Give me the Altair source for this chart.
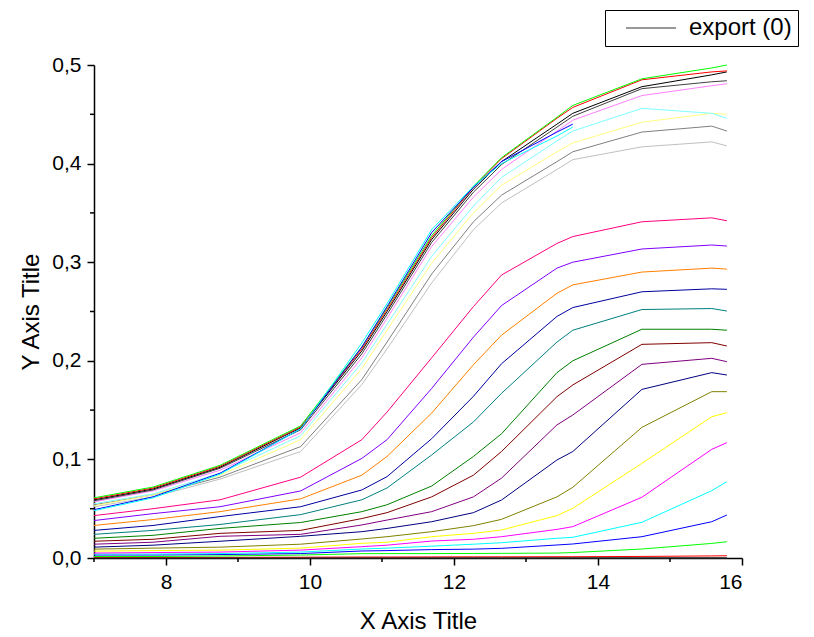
import altair as alt
import pandas as pd

x_vals = [7.0, 7.82, 8.75, 9.87, 10.72, 11.07, 11.69, 12.27, 12.66, 13.43, 13.65, 14.61, 15.58, 15.79]

s01_black = [0.0] * 14
s02_red = [0.0005, 0.0005, 0.0006, 0.0008, 0.001, 0.001, 0.0011, 0.0012, 0.0012, 0.0013, 0.0013, 0.0016, 0.0021, 0.0023]
s03_green = [0.0015, 0.0015, 0.002, 0.003, 0.0044, 0.0045, 0.0045, 0.0046, 0.0047, 0.005, 0.0055, 0.0091, 0.0148, 0.0165]
s04_blue = [0.003, 0.003, 0.0035, 0.0045, 0.0071, 0.0075, 0.0085, 0.009, 0.0098, 0.0132, 0.0142, 0.0216, 0.0368, 0.0436]
s05_cyan = [0.004, 0.004, 0.0045, 0.006, 0.0091, 0.010, 0.012, 0.014, 0.0155, 0.020, 0.021, 0.0362, 0.0683, 0.0774]
s06_magenta = [0.005, 0.0055, 0.006, 0.008, 0.0115, 0.013, 0.0172, 0.019, 0.0216, 0.029, 0.0318, 0.0616, 0.1102, 0.117]
s07_yellow = [0.007, 0.0075, 0.008, 0.010, 0.0149, 0.016, 0.0216, 0.025, 0.0284, 0.043, 0.0504, 0.096, 0.1433, 0.1474]
s08_darkyellow = [0.009, 0.010, 0.011, 0.014, 0.0193, 0.0216, 0.0267, 0.0328, 0.0392, 0.062, 0.0717, 0.1325, 0.1687, 0.1687]
s09_navy = [0.011, 0.013, 0.017, 0.022, 0.0267, 0.030, 0.0368, 0.046, 0.0588, 0.0994, 0.108, 0.171, 0.188, 0.1856]
s10_purple = [0.014, 0.016, 0.022, 0.024, 0.0335, 0.0385, 0.047, 0.062, 0.081, 0.135, 0.145, 0.1964, 0.2025, 0.1991]
s11_wine = [0.017, 0.019, 0.025, 0.028, 0.040, 0.046, 0.062, 0.084, 0.108, 0.1636, 0.1755, 0.2167, 0.2184, 0.215]
s12_olive = [0.020, 0.023, 0.030, 0.036, 0.047, 0.054, 0.073, 0.103, 0.126, 0.188, 0.200, 0.232, 0.232, 0.231]
s13_darkcyan = [0.024, 0.028, 0.034, 0.044, 0.059, 0.071, 0.1045, 0.138, 0.167, 0.219, 0.231, 0.252, 0.253, 0.2505]
s14_royal = [0.028, 0.033, 0.042, 0.052, 0.069, 0.0825, 0.121, 0.164, 0.197, 0.245, 0.254, 0.270, 0.273, 0.2725]
s15_orange = [0.033, 0.039, 0.047, 0.060, 0.084, 0.103, 0.147, 0.196, 0.226, 0.2685, 0.277, 0.290, 0.294, 0.293]
s16_violet = [0.038, 0.045, 0.052, 0.068, 0.101, 0.120, 0.172, 0.224, 0.256, 0.294, 0.300, 0.3134, 0.3174, 0.3164]
s17_pink = [0.043, 0.050, 0.059, 0.082, 0.120, 0.148, 0.203, 0.255, 0.287, 0.319, 0.326, 0.341, 0.345, 0.342]
s19_ltgray = [0.052, 0.062, 0.080, 0.108, 0.176, 0.212, 0.279, 0.333, 0.360, 0.394, 0.404, 0.417, 0.422, 0.418]
s20_gray = [0.054, 0.064, 0.082, 0.113, 0.181, 0.219, 0.288, 0.341, 0.368, 0.402, 0.412, 0.432, 0.438, 0.433]
s21_ltyellow = [0.053, 0.064, 0.084, 0.120, 0.192, 0.231, 0.299, 0.350, 0.378, 0.412, 0.421, 0.442, 0.451, 0.450]
s22_ltcyan = [0.055, 0.065, 0.086, 0.124, 0.198, 0.237, 0.306, 0.357, 0.386, 0.423, 0.433, 0.456, 0.451, 0.446]
s23_ltmagenta = [0.057, 0.068, 0.089, 0.127, 0.203, 0.243, 0.316, 0.366, 0.394, 0.433, 0.444, 0.469, 0.479, 0.481]
s24_darkgray = [0.058, 0.069, 0.091, 0.130, 0.207, 0.247, 0.320, 0.371, 0.399, 0.437, 0.448, 0.476, 0.483, 0.484]
s25_black = [0.059, 0.070, 0.092, 0.132, 0.210, 0.250, 0.323, 0.374, 0.402, 0.440, 0.451, 0.478, 0.490, 0.493]
s26_red = [0.060, 0.071, 0.093, 0.133, 0.212, 0.252, 0.325, 0.376, 0.405, 0.446, 0.457, 0.485, 0.493, 0.494]
s27_green = [0.061, 0.072, 0.094, 0.134, 0.214, 0.254, 0.327, 0.377, 0.406, 0.447, 0.459, 0.486, 0.497, 0.500]
s28_blue = [0.049, 0.062, 0.086, 0.131, 0.214, 0.255, 0.330, 0.376, 0.402, 0.432, 0.440, None, None, None]
s29_cyan = [0.048, 0.061, 0.085, 0.131, 0.218, 0.258, 0.333, 0.377, 0.400, 0.428, 0.437, None, None, None]

series = [
    (s01_black, "#000000"), (s02_red, "#FF0000"), (s03_green, "#00FF00"), (s04_blue, "#0000FF"),
    (s05_cyan, "#00FFFF"), (s06_magenta, "#FF00FF"), (s07_yellow, "#FFFF00"), (s08_darkyellow, "#808000"),
    (s09_navy, "#000080"), (s10_purple, "#800080"), (s11_wine, "#800000"), (s12_olive, "#008000"),
    (s13_darkcyan, "#008080"), (s14_royal, "#0000A0"), (s15_orange, "#FF8000"), (s16_violet, "#8000FF"),
    (s17_pink, "#FF0080"), (s19_ltgray, "#C0C0C0"), (s20_gray, "#808080"), (s21_ltyellow, "#FFFF80"),
    (s22_ltcyan, "#80FFFF"), (s23_ltmagenta, "#FF80FF"), (s24_darkgray, "#404040"), (s25_black, "#000000"),
    (s26_red, "#FF0000"), (s27_green, "#00FF00"), (s28_blue, "#0000FF"), (s29_cyan, "#00FFFF"),
]

rows = []
for i, (vals, col) in enumerate(series):
    for xv, yv in zip(x_vals, vals):
        if yv is not None:
            rows.append({"x": xv, "y": yv, "series": i, "color": col})
df = pd.DataFrame(rows)

legend_df = pd.DataFrame({"x": x_vals, "y": s01_black, "name": ["export (0)"] * len(x_vals)})

minor_x = [7, 9, 11, 13, 15]
minor_y = [0.05, 0.15, 0.25, 0.35, 0.45]

W, H = 648, 493
FONT = "Liberation Sans"

xscale = alt.Scale(domain=[7, 16], nice=False, zero=False)
yscale = alt.Scale(domain=[0, 0.5], nice=False)

xaxis = alt.Axis(values=[8, 10, 12, 14, 16], title="X Axis Title", grid=False,
                 labelExpr="replace(format(datum.value, 'd'), '.', ',')")
yaxis = alt.Axis(values=[0, 0.1, 0.2, 0.3, 0.4, 0.5], title="Y Axis Title", grid=False,
                 labelExpr="replace(format(datum.value, '.1f'), '.', ',')")

lines = alt.Chart(df).mark_line(strokeWidth=1, interpolate="linear").encode(
    x=alt.X("x:Q", scale=xscale, axis=xaxis),
    y=alt.Y("y:Q", scale=yscale, axis=yaxis),
    color=alt.Color("color:N", scale=None),
    detail="series:N",
    order="x:Q",
)

legend_layer = alt.Chart(legend_df).mark_line(strokeWidth=1).encode(
    x=alt.X("x:Q", scale=xscale),
    y=alt.Y("y:Q", scale=yscale),
    stroke=alt.Stroke("name:N", scale=alt.Scale(domain=["export (0)"], range=["#333333"]),
                      legend=alt.Legend(title=None, orient="none", legendX=511, legendY=-55,
                                        strokeColor="black", fillColor="white", padding=6,
                                        symbolType="M-2.5,0H2.5", symbolSize=400, symbolStrokeWidth=1,
                                        symbolFillColor="transparent",
                                        labelFontSize=24, labelFont=FONT, labelColor="black",
                                        labelExpr="datum.label + '\u00a0\u00a0\u00a0'",
                                        symbolOffset=28, labelOffset=26, cornerRadius=0)),
)

minor_x_ticks = alt.Chart(pd.DataFrame({"x": minor_x})).mark_rule(color="black", strokeWidth=1.5).encode(
    x=alt.X("x:Q", scale=xscale), y=alt.value(H), y2=alt.value(H + 4)
)
minor_y_ticks = alt.Chart(pd.DataFrame({"y": minor_y})).mark_rule(color="black", strokeWidth=1.5).encode(
    y=alt.Y("y:Q", scale=yscale), x=alt.value(0), x2=alt.value(-4)
)

chart = alt.layer(lines, legend_layer, minor_x_ticks, minor_y_ticks).properties(
    width=W, height=H,
    autosize=alt.AutoSizeParams(type="none"),
    padding={"left": 94, "top": 65, "right": 72, "bottom": 79},
    background="white",
).configure_view(stroke=None).configure_axis(
    domainColor="black", domainWidth=1.5, tickColor="black", tickWidth=1.5, tickSize=7,
    labelColor="black", labelFont=FONT, labelFontSize=21, labelPadding=6,
    titleColor="black", titleFont=FONT, titleFontSize=24, titleFontWeight="normal",
).configure_axisX(titlePadding=17).configure_axisY(titlePadding=8)

chart.save("out.html", embed_options={"renderer": "svg", "actions": False})
